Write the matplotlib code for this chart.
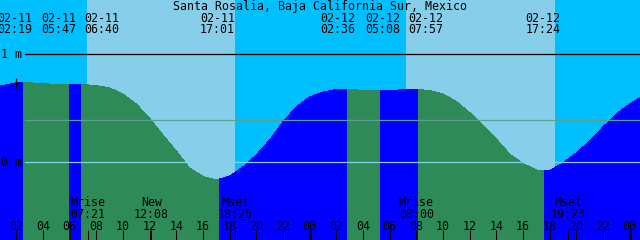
# Tide graph for Santa Rosalia, two days from 02-11 to 02-13, drawn in the
# style of an XTide plot: sky/night background, rising/falling water fill.
import matplotlib
matplotlib.use("Agg")
import matplotlib.pyplot as plt
from matplotlib.patches import Rectangle
from matplotlib.transforms import blended_transform_factory

# water level (m), one value per hour since 02-11 00:00
hours = list(range(0, 50))
heights = [0.685, 0.708, 0.733, 0.733, 0.726, 0.717, 0.713, 0.717, 0.708, 0.685,
           0.630, 0.537, 0.403, 0.250, 0.102, -0.056, -0.134, -0.167, -0.130, -0.046,
           0.065, 0.204, 0.370, 0.509, 0.602, 0.648, 0.671, 0.671, 0.664, 0.660,
           0.662, 0.669, 0.673, 0.662, 0.630, 0.560, 0.458, 0.343, 0.213, 0.074,
           -0.014, -0.074, -0.079, -0.009, 0.083, 0.194, 0.324, 0.444, 0.537, 0.611]

# hours where the tide turns (the fill switches colour there), first turn is a high
turn_hours = [2.50, 5.95, 6.86, 17.20, 26.80, 29.28, 32.13, 41.58]

# tide events printed along the top
tide_dates = ["02-11", "02-11", "02-11", "02-11", "02-12", "02-12", "02-12", "02-12"]
tide_times = ["02:19", "05:47", "06:40", "17:01", "02:36", "05:08", "07:57", "17:24"]

# moon events printed along the bottom
moon_names = ["Mrise", "New", "Mset", "Mrise", "Mset"]
moon_times = ["07:21", "12:08", "18:25", "08:00", "19:23"]
moon_days = [0, 0, 0, 1, 1]

# daylight (hours since 02-11 00:00)
sunrise_hours = [7.30, 31.21]
sunset_hours = [18.41, 42.40]

hour_labels = ["02", "04", "06", "08", "10", "12", "14", "16", "18", "20", "22", "00",
               "02", "04", "06", "08", "10", "12", "14", "16", "18", "20", "22", "00"]

title = "Santa Rosalia, Baja California Sur, Mexico"
level_labels = ["1 m", "0 m"]
level_values = [1.0, 0.0]
msl_level = 0.389
now_hour, now_height = 2.0, 0.729

# layout: where the tide labels sit (hours); they are nudged apart in the picture
tide_label_x = [1.88, 5.15, 8.43, 17.09, 26.09, 29.47, 32.73, 41.51]

T0 = 0.78           # left edge of the graph, hours
SPAN = 48.0
PX_PER_M = 108.0
ZERO_PX = 162.0
H_PX = 240.0

NIGHT_BG = "#00BFFF"
DAY_BG = "#87CEEB"
RISE_FG = "#0000FF"
FALL_FG = "#2E8B57"
FONT = "DejaVu Sans Mono"
FS = 8.4


def to_hours(day, hhmm):
    """Convert day offset and 'HH:MM' into hours since 02-11 00:00."""
    hh, mm = hhmm.split(":")
    return day * 24 + int(hh) + int(mm) / 60.0


def ypx(py):
    """Pixel row (from top) to axes fraction."""
    return 1.0 - py / H_PX


def draw_tides(figfname):
    fig = plt.figure(figsize=(6.4, 2.4), dpi=100)
    ax = fig.add_axes([0, 0, 1, 1])
    ax.set_xlim(T0, T0 + SPAN)
    ymin = -(H_PX - ZERO_PX) / PX_PER_M
    ax.set_ylim(ymin, ZERO_PX / PX_PER_M)
    ax.axis("off")
    tr = blended_transform_factory(ax.transData, ax.transAxes)

    # sky: night everywhere, then daylight spans
    ax.axvspan(T0, T0 + SPAN, color=NIGHT_BG, lw=0, antialiased=False)
    for rise, sset in zip(sunrise_hours, sunset_hours):
        ax.axvspan(rise, sset, color=DAY_BG, lw=0, antialiased=False)

    # water: blue while rising, green while falling
    edges = [T0 - 1] + turn_hours + [T0 + SPAN + 1]
    for i in range(len(edges) - 1):
        col = RISE_FG if i % 2 == 0 else FALL_FG
        poly = ax.fill_between(hours, heights, ymin - 1, color=col, lw=0,
                               antialiased=False)
        clip = Rectangle((edges[i], ymin - 1), edges[i + 1] - edges[i], 5,
                         transform=ax.transData)
        poly.set_clip_path(clip)

    # level lines
    x_start = 25 / 640.0
    ax.axhline(1.0, xmin=x_start, color="black", lw=0.9)
    ax.axhline(msl_level, xmin=x_start, color="#5AA08C", lw=0.9)
    ax.axhline(0.0, xmin=x_start, color=DAY_BG, lw=0.9)
    for lab, val in zip(level_labels, level_values):
        ax.text(T0 + 0.08, val - 4 / PX_PER_M, lab, family=FONT, fontsize=FS,
                ha="left", va="baseline")
    ax.plot([now_hour], [now_height], marker="+", color="black", ms=7, mew=0.9)

    # title and tide events
    ax.text(0.5, ypx(9.6), title, transform=ax.transAxes, family=FONT,
            fontsize=FS, ha="center", va="baseline")
    for d, t, lx in zip(tide_dates, tide_times, tide_label_x):
        ax.text(lx, ypx(21.6), d, transform=tr, family=FONT, fontsize=FS,
                ha="center", va="baseline")
        ax.text(lx, ypx(33.2), t, transform=tr, family=FONT, fontsize=FS,
                ha="center", va="baseline")

    # hour ticks along the bottom, thick ones at midnight
    tick_hours = list(range(2, 49, 2))
    for h, lab in zip(tick_hours, hour_labels):
        ax.text(h, ypx(229.8), lab, transform=tr, family=FONT, fontsize=FS,
                ha="center", va="baseline")
        lw = 2.2 if h % 24 == 0 else 0.75
        ax.plot([h, h], [ypx(230), ypx(240)], transform=tr, color="black",
                lw=lw, solid_capstyle="butt")

    # moon events
    for name, t, d in zip(moon_names, moon_times, moon_days):
        mh = to_hours(d, t)
        ax.text(mh, ypx(206), name, transform=tr, family=FONT, fontsize=FS,
                ha="center", va="baseline")
        ax.text(mh, ypx(218), t, transform=tr, family=FONT, fontsize=FS,
                ha="center", va="baseline")
        ax.plot([mh, mh], [ypx(230), ypx(240)], transform=tr, color="black",
                lw=0.75, solid_capstyle="butt")

    fig.savefig(figfname, dpi=100)


if __name__ == "__main__":
    draw_tides("out.png")
